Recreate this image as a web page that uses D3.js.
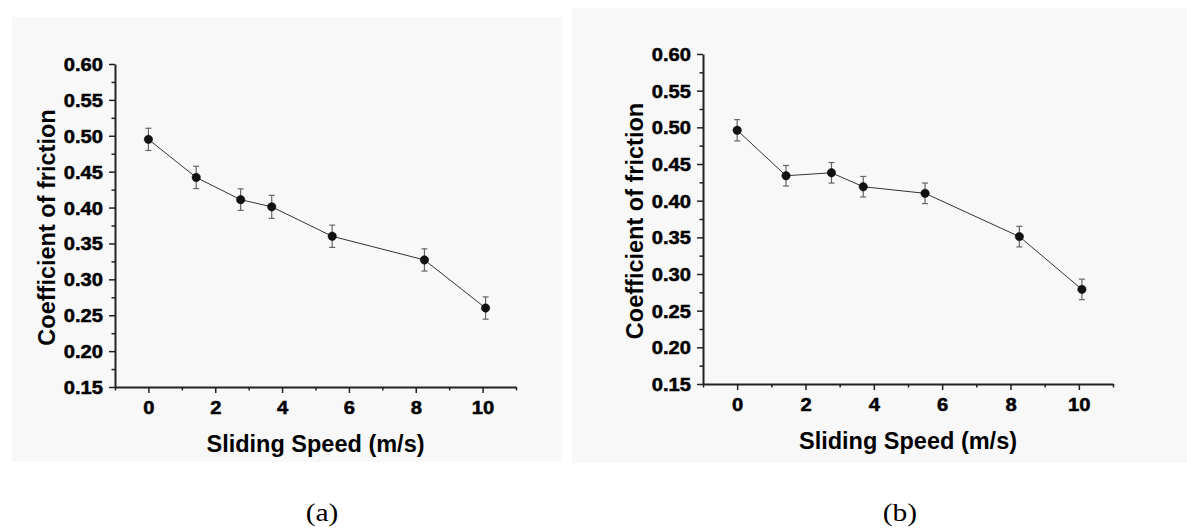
<!DOCTYPE html>
<html>
<head>
<meta charset="utf-8">
<script src="https://cdn.jsdelivr.net/npm/d3@7"></script>
<style>
  html, body { margin: 0; padding: 0; background: #ffffff; }
  svg { display: block; }
</style>
</head>
<body>
<svg id="chart" width="1187" height="531"></svg>
<script>
// ---- data ----
const speeds = [0, 1.43, 2.76, 3.69, 5.5, 8.26, 10.09];
const cofA = [0.495, 0.442, 0.411, 0.401, 0.360, 0.327, 0.260];
const errA = [0.0155, 0.0155, 0.015, 0.016, 0.0155, 0.0155, 0.0155];
const cofB = [0.496, 0.434, 0.438, 0.419, 0.410, 0.351, 0.279];
const errB = [0.0145, 0.014, 0.014, 0.014, 0.014, 0.014, 0.014];
const xMajorTicks = [0, 2, 4, 6, 8, 10];
const xMinorTicks = [-1, 1, 3, 5, 7, 9, 11];
const yMajorTicks = [0.15, 0.20, 0.25, 0.30, 0.35, 0.40, 0.45, 0.50, 0.55, 0.60];
const yMinorTicks = [0.175, 0.225, 0.275, 0.325, 0.375, 0.425, 0.475, 0.525, 0.575];
const xTitle = "Sliding Speed (m/s)";
const yTitle = "Coefficient of friction";
const panelLabels = ["(a)", "(b)"];

const svg = d3.select("#chart");

function drawPanel(p) {
  svg.append("rect")
    .attr("x", p.bg[0]).attr("y", p.bg[1])
    .attr("width", p.bg[2]).attr("height", p.bg[3])
    .attr("fill", "#f8f8f8");

  const x = d3.scaleLinear().domain([-1, 11]).range(p.xr);
  const y = d3.scaleLinear().domain([0.15, 0.60]).range(p.yr);
  const g = svg.append("g");

  // minor ticks
  g.append("g").attr("transform", `translate(0,${p.yr[0]})`)
    .call(d3.axisBottom(x).tickValues(xMinorTicks).tickSize(3.5).tickSizeOuter(0).tickFormat(""))
    .call(s => s.select(".domain").remove())
    .call(s => s.selectAll("line").attr("stroke", "#222").attr("stroke-width", 1.5));
  g.append("g").attr("transform", `translate(${p.xr[0]},0)`)
    .call(d3.axisLeft(y).tickValues(yMinorTicks).tickSize(3.5).tickSizeOuter(0).tickFormat(""))
    .call(s => s.select(".domain").remove())
    .call(s => s.selectAll("line").attr("stroke", "#222").attr("stroke-width", 1.5));

  const tickStyle = sel => sel
    .attr("transform", "scale(1.12,1)")
    .attr("fill", "#000")
    .attr("stroke", "#000").attr("stroke-width", 0.5)
    .style("font-family", "'Liberation Sans', Arial, sans-serif")
    .style("font-weight", "bold").style("font-size", "18px");

  // major x axis
  const xa = g.append("g").attr("transform", `translate(0,${p.yr[0]})`)
    .call(d3.axisBottom(x).tickValues(xMajorTicks).tickSize(6).tickSizeOuter(0).tickFormat(d3.format("d")));
  xa.select(".domain").attr("stroke", "#222").attr("stroke-width", 2);
  xa.selectAll("line").attr("stroke", "#222").attr("stroke-width", 1.5);
  xa.selectAll("text").attr("y", 27.5).attr("dy", null).call(tickStyle);

  // major y axis
  const ya = g.append("g").attr("transform", `translate(${p.xr[0]},0)`)
    .call(d3.axisLeft(y).tickValues(yMajorTicks).tickSize(6).tickSizeOuter(0).tickFormat(d3.format(".2f")));
  ya.select(".domain").attr("stroke", "#222").attr("stroke-width", 2);
  ya.selectAll("line").attr("stroke", "#222").attr("stroke-width", 1.5);
  ya.selectAll("text").attr("x", -10.7).attr("dy", "0.36em").call(tickStyle);

  // titles
  g.append("text")
    .attr("x", (p.xr[0] + p.xr[1]) / 2).attr("y", p.yr[0] + 65)
    .attr("text-anchor", "middle").attr("fill", "#000")
    .style("font-family", "'Liberation Sans', Arial, sans-serif")
    .style("font-weight", "bold").style("font-size", "23.5px")
    .text(xTitle);
  g.append("text")
    .attr("transform", `translate(${p.xr[0] - 60},${(p.yr[0] + p.yr[1]) / 2 + 2}) rotate(-90)`)
    .attr("text-anchor", "middle").attr("fill", "#000")
    .style("font-family", "'Liberation Sans', Arial, sans-serif")
    .style("font-weight", "bold").style("font-size", "23.5px")
    .text(yTitle);

  const data = speeds.map((s, i) => ({ s, v: p.vals[i], e: p.errs[i] }));

  // connecting line
  g.append("path").datum(data)
    .attr("fill", "none").attr("stroke", "#333").attr("stroke-width", 1)
    .attr("d", d3.line().x(d => x(d.s)).y(d => y(d.v)));

  // error bars
  const eb = g.append("g").attr("stroke", "#666").attr("stroke-width", 1.2);
  eb.selectAll("line.v").data(data).join("line")
    .attr("x1", d => x(d.s)).attr("x2", d => x(d.s))
    .attr("y1", d => y(d.v - d.e)).attr("y2", d => y(d.v + d.e));
  eb.selectAll("line.t").data(data).join("line")
    .attr("x1", d => x(d.s) - 3).attr("x2", d => x(d.s) + 3)
    .attr("y1", d => y(d.v + d.e)).attr("y2", d => y(d.v + d.e));
  eb.selectAll("line.b").data(data).join("line")
    .attr("x1", d => x(d.s) - 3).attr("x2", d => x(d.s) + 3)
    .attr("y1", d => y(d.v - d.e)).attr("y2", d => y(d.v - d.e));

  // markers
  g.selectAll("circle").data(data).join("circle")
    .attr("cx", d => x(d.s)).attr("cy", d => y(d.v))
    .attr("r", 4.2).attr("fill", "#111").attr("stroke", "#000").attr("stroke-width", 0.5);

  // panel label
  svg.append("text")
    .attr("transform", `translate(${p.label[0]},${p.label[1]}) scale(1.18,1)`)
    .attr("text-anchor", "middle").attr("fill", "#000")
    .style("font-family", "'Liberation Serif', 'Times New Roman', serif")
    .style("font-size", "25px")
    .text(p.labelText);
}

drawPanel({ bg: [12, 17, 550, 445], xr: [115, 516], yr: [387, 64], vals: cofA, errs: errA, label: [322, 521], labelText: panelLabels[0] });
drawPanel({ bg: [572, 8, 615, 455], xr: [703, 1113], yr: [384, 54], vals: cofB, errs: errB, label: [900, 521], labelText: panelLabels[1] });
</script>
</body>
</html>
